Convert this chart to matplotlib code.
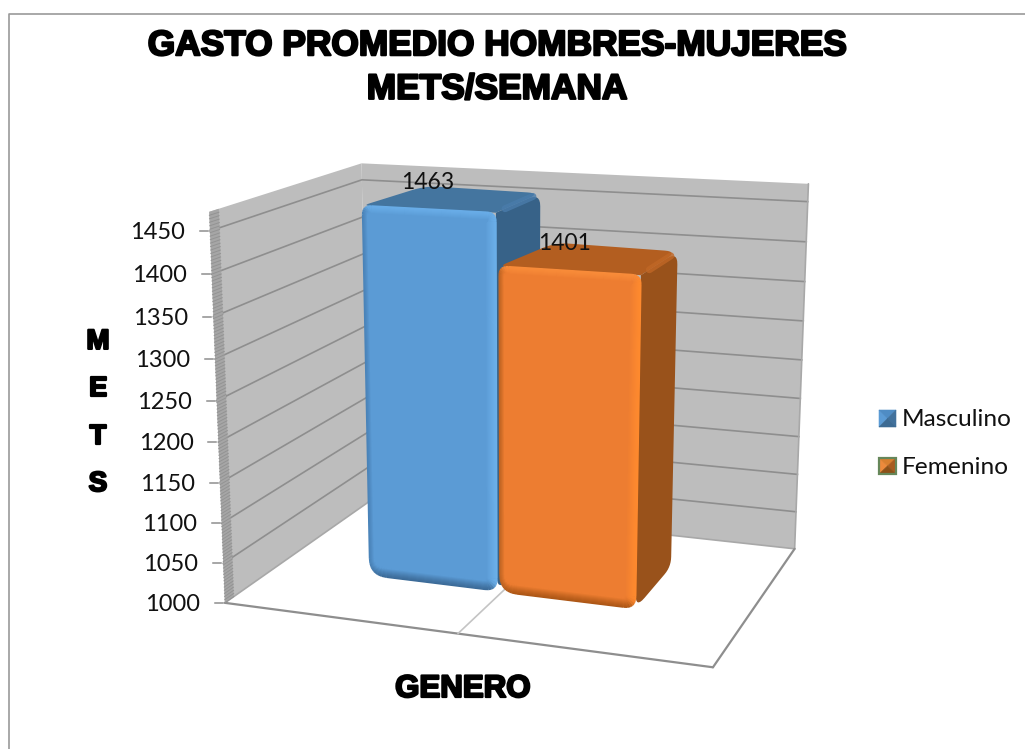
import numpy as np
import matplotlib
matplotlib.use("Agg")
import matplotlib.pyplot as plt
from matplotlib.patches import Polygon
from matplotlib.collections import LineCollection
import matplotlib.patheffects as pe
from matplotlib.colors import to_rgb

# ---- data
categories = ["Masculino", "Femenino"]
values = [1463, 1401]
axis_ticks = [1000, 1050, 1100, 1150, 1200, 1250, 1300, 1350, 1400, 1450]
title_lines = "GASTO PROMEDIO HOMBRES-MUJERES\nMETS/SEMANA"
y_title = "M\nE\nT\nS"
x_title = "GENERO"

V0, VMAX = 1000, 1472
W, H = 1025, 749

# camera calibration of the 3-D box (x, depth, height fraction -> pixel)
calib = [((0,0,0),(226,602)),((1,0,0),(713,668)),((0,1,0),(367,503)),((1,1,0),(795,548)),
         ((0,0,1),(208,212)),((0,1,1),(363,163)),((1,1,1),(808,184))]
A, b = [], []
for (X,Z,Y),(u,v) in calib:
    A.append([X,Z,Y,1,0,0,0,0,-u*X,-u*Z,-u*Y]); b.append(u)
    A.append([0,0,0,0,X,Z,Y,1,-v*X,-v*Z,-v*Y]); b.append(v)
sol = np.linalg.lstsq(np.array(A,float), np.array(b,float), rcond=None)[0]
P = np.append(sol,1).reshape(3,4)

def proj(x,z,val):
    h=(val-V0)/(VMAX-V0)
    p=P@np.array([x,z,h,1.0])
    return p[:2]/p[2]

def rounded(pts,radii,n=8):
    pts=[np.array(p,float) for p in pts]; out=[]
    m=len(pts)
    for i,V in enumerate(pts):
        a=pts[i-1]; c=pts[(i+1)%m]; r=radii[i]
        if r<=0.01:
            out.append(V); continue
        e1=(a-V)/np.linalg.norm(a-V); e2=(c-V)/np.linalg.norm(c-V)
        p1=V+e1*r; p2=V+e2*r
        for t in np.linspace(0,1,n):
            out.append((1-t)**2*p1+2*t*(1-t)*V+t**2*p2)
    return np.array(out)

def inset(pts,d):
    pts=[np.array(p,float) for p in pts]; out=[]; m=len(pts)
    for i,V in enumerate(pts):
        a=pts[i-1]; c=pts[(i+1)%m]
        out.append(V+d*((a-V)/np.linalg.norm(a-V)+(c-V)/np.linalg.norm(c-V)))
    return out

fig=plt.figure(figsize=(W/100,H/100),dpi=100)
ax=fig.add_axes([0,0,1,1]); ax.set_xlim(0,W); ax.set_ylim(H,0); ax.axis("off")

# chart frame
ax.plot([9,9,W],[H,14,14],color="#9a9a9a",lw=1.2)

# floor
wall="#bdbdbd"; grid="#8e8e8e"
ax.add_patch(Polygon([proj(0,0,V0),proj(1,0,V0),proj(1,1,V0),proj(0,1,V0)],fc="white",ec="none"))
# walls
ax.add_patch(Polygon([proj(0,0,V0),proj(0,0,VMAX),proj(0,1,VMAX),proj(0,1,V0)],fc=wall,ec="none"))
ax.add_patch(Polygon([proj(0,1,V0),proj(0,1,VMAX),proj(1,1,VMAX),proj(1,1,V0)],fc=wall,ec="none"))
for t in axis_ticks[1:]:
    a,bk,c=proj(0,0,t),proj(0,1,t),proj(1,1,t)
    ax.plot([a[0],bk[0],c[0]],[a[1],bk[1],c[1]],color=grid,lw=1.2)
# wall/floor edges
for p,q,col,lw in [(proj(0,0,V0),proj(0,1,V0),"#a8a8a8",1.2),(proj(0,1,V0),proj(1,1,V0),"#a8a8a8",1.2),
                   (proj(1,1,V0),proj(1,1,VMAX),"#a8a8a8",1.2),(proj(1,0,V0),proj(1,1,V0),"#8e8e8e",1.6),
                   (proj(0,0,V0),proj(1,0,V0),"#8e8e8e",1.6),(proj(0.5,0,V0),proj(0.5,1,V0),"#c4c4c4",1.2)]:
    ax.plot([p[0],q[0]],[p[1],q[1]],color=col,lw=lw,solid_capstyle="round")
# axis band with minor ticks
band=0.054
ax.add_patch(Polygon([proj(0,0,V0),proj(0,0,VMAX),proj(0,band,VMAX),proj(0,band,V0)],fc="#a6a6a6",ec="none"))
for t in np.arange(V0,VMAX,4):
    p,q=proj(0,0,t),proj(0,band,t)
    ax.plot([p[0],q[0]],[p[1],q[1]],color="#939393",lw=0.7)

for t in axis_ticks:
    p=proj(0,0,t)
    ax.plot([p[0]-10,p[0]-2],[p[1],p[1]],color="#8e8e8e",lw=1.1)
    ax.text(p[0]-25,p[1]+1.5,str(t),ha="right",va="center",fontsize=17,family="Lato",color="#111111")

def draw_bar(x0,x1,z0,z1,val,base,top,side,strip,etop,eright,eleft,ebot):
    FLB,FRB,FRT,FLT=proj(x0,z0,V0),proj(x1,z0,V0),proj(x1,z0,val),proj(x0,z0,val)
    BRT,BLT,BRB=proj(x1,z1,val),proj(x0,z1,val),proj(x1,z1,V0)
    BLT=BLT+np.array([12.0,-1.0])   # the rounded box leans further back on its left side
    ax.add_patch(Polygon(rounded([FRT,BRT,BRB,FRB],[0,13,10,14]),fc=side,ec="none"))
    ax.add_patch(Polygon(rounded([FLT,BLT,BRT,FRT],[8,14,13,0]),fc=top,ec="none"))
    d=(BRT-FRT)/np.linalg.norm(BRT-FRT)
    ax.plot([FRT[0]+d[0]*10,BRT[0]-d[0]*8],[FRT[1]+d[1]*10,BRT[1]-d[1]*8],color=strip,lw=5,solid_capstyle="round",alpha=.8)
    corners=[FLB,FRB,FRT,FLT]; radii=[17,12,9,9]
    ax.add_patch(Polygon(rounded(corners,radii),fc=base,ec="none"))
    sides={"t":np.array([0,-1.]),"r":np.array([1.,0]),"l":np.array([-1.,0]),"b":np.array([0,1.])}
    cols={"t":etop,"r":eright,"l":eleft,"b":ebot}; wid={"t":8,"r":11,"l":5,"b":9}
    for d_ in np.arange(0,12,1.0):
        loop=rounded(inset(corners,d_),[max(r-d_,1) for r in radii],n=7)
        loop=np.vstack([loop,loop[:1]])
        segs=[];colors=[]
        for i in range(len(loop)-1):
            s=loop[i+1]-loop[i]; nn=np.linalg.norm(s)
            if nn<1e-6: continue
            # outward normal on screen (y pointing down)
            n=np.array([-s[1],s[0]])/nn
            w={k:max(0,float(n@v))**2 for k,v in sides.items()}
            tot=sum(w.values())
            width=sum(w[k]*wid[k] for k in w)/tot
            edge=sum(w[k]*np.array(to_rgb(cols[k])) for k in w)/tot
            f=min(1,d_/width)**1.3
            segs.append([loop[i],loop[i+1]]); colors.append(edge*(1-f)+np.array(to_rgb(base))*f)
        ax.add_collection(LineCollection(segs,colors=colors,linewidths=1.15))
    return proj((x0+x1)/2,(z0+z1)/2,val)

blue=draw_bar(0.207,0.488,0.35,0.72,values[0],"#5b9bd5","#44759f","#376288","#4a7cab","#69ade8","#6cb0ea","#4a83b8","#3c6b98")
orng=draw_bar(0.496,0.781,0.345,0.716,values[1],"#ed7d31","#b35e20","#99521b","#c06726","#f98c3a","#ff8a2e","#bf6422","#ad5716")
ax.text(blue[0]-25,blue[1]-17,str(values[0]),ha="center",va="center",fontsize=16.5,family="Lato",color="#111111")
ax.text(orng[0]-25,orng[1]-15,str(values[1]),ha="center",va="center",fontsize=16.5,family="Lato",color="#111111")

# titles
eff=[pe.withStroke(linewidth=1.6,foreground="black")]
ax.text(497,67.5,title_lines,ha="center",va="center",fontsize=25.4,family="Liberation Sans",weight="bold",color="black",linespacing=1.41,path_effects=eff)
ax.text(98,413,y_title,ha="center",va="center",fontsize=20,family="Liberation Sans",weight="bold",color="black",linespacing=2.07,path_effects=eff)
ax.text(463,689,x_title,ha="center",va="center",fontsize=22.5,family="Liberation Sans",weight="bold",color="black",path_effects=eff)

# legend keys
def key(x0,y0,x1,y1,l,tp,r,bt,edge=None):
    c=((x0+x1)/2,(y0+y1)/2)
    ax.add_patch(Polygon([(x0,y0),c,(x0,y1)],fc=l,ec=l,lw=0.4))
    ax.add_patch(Polygon([(x0,y0),(x1,y0),c],fc=tp,ec=tp,lw=0.4))
    ax.add_patch(Polygon([(x1,y0),(x1,y1),c],fc=r,ec=r,lw=0.4))
    ax.add_patch(Polygon([(x0,y1),(x1,y1),c],fc=bt,ec=bt,lw=0.4))
    if edge: ax.add_patch(Polygon([(x0,y0),(x1,y0),(x1,y1),(x0,y1)],fc="none",ec=edge,lw=1.6))
key(879,410,896,427,"#5b9bd5","#4f8cc4","#41719c","#3c6a93")
key(879,458,896,474,"#ed8a3c","#d9802f","#a85c20","#8c5118","#66875a")
ax.text(902,419,categories[0],ha="left",va="center",fontsize=17.6,family="Lato",color="#111111")
ax.text(902,467,categories[1],ha="left",va="center",fontsize=17.6,family="Lato",color="#111111")

# keep painter's order: everything stacks in the order it was added
for i,c in enumerate(ax._children):
    c.set_zorder(2+i*0.001)

fig.savefig("out.png",dpi=100)
